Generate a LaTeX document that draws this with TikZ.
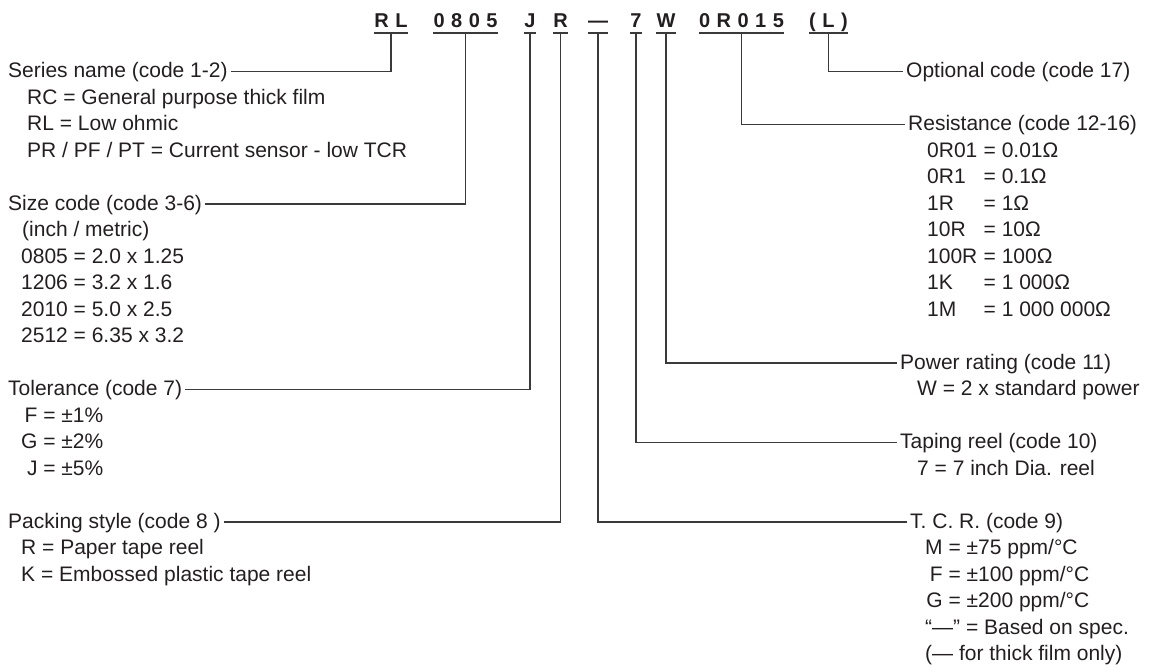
\documentclass[tikz,border=0pt]{standalone}
\usepackage{fontspec}
\setmainfont{Liberation Sans}
\definecolor{ink}{HTML}{231F20}
\definecolor{wirecol}{HTML}{3A3A3A}
\newcommand{\codegap}{\hspace{6.5pt}}
\newcommand{\rescode}[1]{\makebox[56.5pt][l]{#1}}
\newcommand{\tolcode}[1]{\makebox[0.778em][r]{#1}}
\newcommand{\tcrcode}[1]{\makebox[0.833em][r]{#1}}
\begin{document}
\begin{tikzpicture}[x=1pt,y=-1pt,
  txt/.style={anchor=west, inner xsep=3pt, inner ysep=0pt, text height=16pt, text depth=4pt,
    font=\fontsize{21pt}{25pt}\selectfont, text=ink},
  codetxt/.style={anchor=base, inner sep=0pt, font=\fontsize{20pt}{24pt}\selectfont\bfseries, text=ink},
  uline/.style={draw=wirecol, line width=1.1pt},
  wire/.style={draw=wirecol, line width=1.1pt}]
\useasboundingbox (0,0) rectangle (1153,664);

% ---- code header ----
\node[codetxt] (cRL)   at (391,27)   {R\codegap L};
\node[codetxt] (c0805) at (465.5,27) {0\codegap 8\codegap 0\codegap 5};
\node[codetxt] (cJ)    at (530,27)   {J};
\node[codetxt] (cR)    at (560.5,27) {R};
\node[codetxt] (cDash) at (598,27)   {—};
\node[codetxt] (c7)    at (636,27)   {7};
\node[codetxt] (cW)    at (666,27)   {W};
\node[codetxt] (cRes)  at (741.5,27) {0\codegap R\codegap 0\codegap 1\codegap 5};
\node[codetxt] (cL)    at (828.5,27) {(\codegap L\codegap )};

\foreach \n in {cRL,c0805,cJ,cR,cDash,c7,cW,cRes,cL}{
  \draw[uline] (\n.west |- 0,33) -- (\n.east |- 0,33);
  \coordinate (u\n) at (\n |- 0,33);
}

% ---- left column ----
\node[txt] (ser)  at (5,71.5)  {Series name (code 1-2)};
\node[txt] (ser1) at (24,98)   {RC = General purpose thick film};
\node[txt] (ser2) at (24,124.5){RL = Low ohmic};
\node[txt] (ser3) at (24,151)  {PR / PF / PT = Current sensor - low TCR};

\node[txt] (siz)  at (5,204)   {Size code (code 3-6)};
\node[txt] (siz1) at (19,230.5){(inch / metric)};
\node[txt] (siz2) at (18,257)  {0805 = 2.0 x 1.25};
\node[txt] (siz3) at (18,283.5){1206 = 3.2 x 1.6};
\node[txt] (siz4) at (18,310)  {2010 = 5.0 x 2.5};
\node[txt] (siz5) at (18,336.5){2512 = 6.35 x 3.2};

\node[txt] (tol)  at (5,389.5) {Tolerance (code 7)};
\node[txt] (tol1) at (18,416)  {\tolcode{F} = ±1\%};
\node[txt] (tol2) at (18,442.5){\tolcode{G} = ±2\%};
\node[txt] (tol3) at (18,469)  {\tolcode{J} = ±5\%};

\node[txt] (pak)  at (5,522)   {Packing style (code 8 )};
\node[txt] (pak1) at (18,548.5){R = Paper tape reel};
\node[txt] (pak2) at (18,575)  {K = Embossed plastic tape reel};

% ---- right column ----
\node[txt] (opt)  at (903,71.5) {Optional code (code 17)};

\node[txt] (res)  at (905,124.5){Resistance (code 12-16)};
\node[txt] (res1) at (924,151)  {\rescode{0R01}= 0.01Ω};
\node[txt] (res2) at (924,177.5){\rescode{0R1}= 0.1Ω};
\node[txt] (res3) at (924,204)  {\rescode{1R}= 1Ω};
\node[txt] (res4) at (924,230.5){\rescode{10R}= 10Ω};
\node[txt] (res5) at (924,257)  {\rescode{100R}= 100Ω};
\node[txt] (res6) at (924,283.5){\rescode{1K}= 1 000Ω};
\node[txt] (res7) at (924,310)  {\rescode{1M}= 1 000 000Ω};

\node[txt] (pow)  at (897,363)  {Power rating (code 11)};
\node[txt] (pow1) at (914,389.5){W = 2 x standard power};

\node[txt] (tap)  at (897,442.5){Taping reel (code 10)};
\node[txt] (tap1) at (914,469)  {7 = 7 inch Dia. reel};

\node[txt] (tcr)  at (907,522)  {T. C. R. (code 9)};
\node[txt] (tcr1) at (922,548.5){\tcrcode{M} = ±75 ppm/°C};
\node[txt] (tcr2) at (922,575)  {\tcrcode{F} = ±100 ppm/°C};
\node[txt] (tcr3) at (922,601.5){\tcrcode{G} = ±200 ppm/°C};
\node[txt] (tcr4) at (922,628)  {“—” = Based on spec.};
\node[txt] (tcr5) at (922,654.5){(— for thick film only)};

% ---- connectors ----
\draw[wire] (ser) -| (ucRL);
\draw[wire] (siz) -| (uc0805);
\draw[wire] (tol) -| (ucJ);
\draw[wire] (pak) -| (ucR);
\draw[wire] (ucDash) |- (tcr);
\draw[wire] (uc7) |- (tap);
\draw[wire] (ucW) |- (pow);
\draw[wire] (ucRes) |- (res);
\draw[wire] (ucL) |- (opt);
\end{tikzpicture}
\end{document}
